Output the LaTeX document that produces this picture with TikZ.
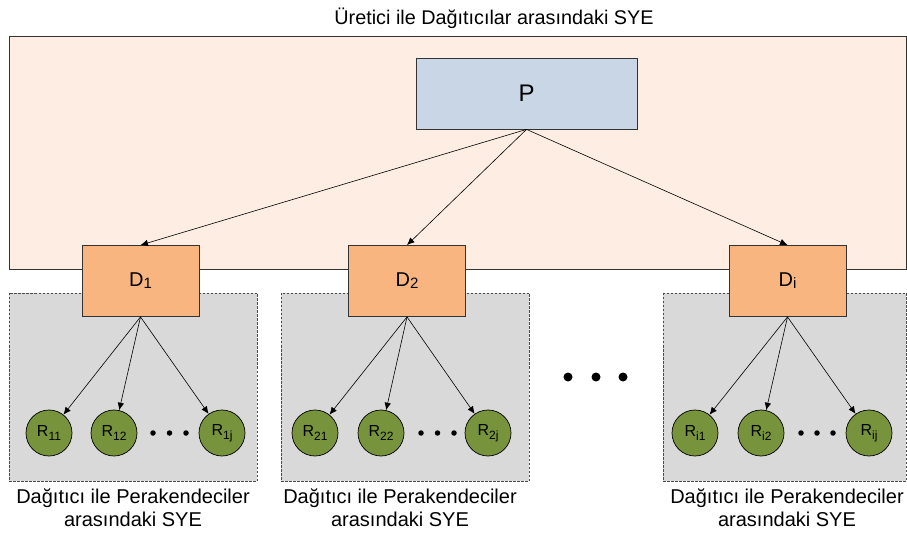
\documentclass[tikz,border=0pt]{standalone}
\usepackage{fontspec}
\setmainfont{Liberation Sans}
\usetikzlibrary{arrows.meta}

\definecolor{peach}{HTML}{FDEDE3}
\definecolor{distfill}{HTML}{F9B57F}
\definecolor{prodfill}{HTML}{C8D6E5}
\definecolor{zonegrey}{HTML}{D9D9D9}
\definecolor{retgreen}{HTML}{77933C}

\newcommand\dsub[1]{\raisebox{-2pt}{\fontsize{15}{15}\selectfont #1}}
\newcommand\rsub[1]{\raisebox{-3.5pt}{\fontsize{12}{12}\selectfont #1}}

\tikzset{
  zone/.style={draw=black!70, line width=0.6pt, dash pattern=on 2.5pt off 1.5pt, fill=zonegrey},
  prodbox/.style={draw=black!80, line width=0.8pt, fill=prodfill, minimum width=221pt, minimum height=71pt, inner sep=0pt, font=\fontsize{24}{24}\selectfont},
  distbox/.style={draw=black!80, line width=0.8pt, fill=distfill, minimum width=117pt, minimum height=71pt, inner sep=0pt, font=\fontsize{20}{20}\selectfont},
  retail/.style={circle, draw=black, line width=0.7pt, fill=retgreen, minimum size=46pt, inner sep=0pt, font=\fontsize{16}{16}\selectfont},
  arr/.style={-{Latex[length=7.5pt,width=6.5pt]}, line width=0.6pt},
  bigdot/.style={circle, fill=black, inner sep=0pt, minimum size=9pt},
  smalldot/.style={circle, fill=black, inner sep=0pt, minimum size=5.5pt},
  caption/.style={align=center, font=\fontsize{20}{23}\selectfont}
}

\begin{document}
\begin{tikzpicture}[x=1pt, y=-1pt]
  \useasboundingbox (0,0) rectangle (907,534);

  % producer--distributor zone
  \node[font=\fontsize{19.8}{19.8}\selectfont] (title) at (494,18) {Üretici ile Dağıtıcılar arasındaki SYE};
  \draw[draw=black!80, line width=0.8pt, fill=peach] (9,36) rectangle (906,269);

  % distributor--retailer zones
  \draw[zone] (9,293) rectangle (257,481);
  \draw[zone] (281,293) rectangle (529,481);
  \draw[zone] (663,293) rectangle (906,481);

  % producer and distributors
  \node[prodbox] (P) at (526.5,93.5) {P};
  \node[distbox] (D1) at (140.5,281) {D\dsub{1}};
  \node[distbox] (D2) at (407,281) {D\dsub{2}};
  \node[distbox] (Di) at (787.5,281) {D\dsub{i}};

  % retailers
  \node[retail] (R11) at (49,433) {R\rsub{11}};
  \node[retail] (R12) at (114,433) {R\rsub{12}};
  \node[retail] (R1j) at (222,433) {R\rsub{1j}};
  \node[retail] (R21) at (315,433) {R\rsub{21}};
  \node[retail] (R22) at (381,433) {R\rsub{22}};
  \node[retail] (R2j) at (488,433) {R\rsub{2j}};
  \node[retail] (Ri1) at (695,433) {R\rsub{i1}};
  \node[retail] (Ri2) at (761,433) {R\rsub{i2}};
  \node[retail] (Rij) at (869,433) {R\rsub{ij}};

  % ellipsis dots
  \foreach \x [count=\k] in {153,169.5,186} \node[smalldot] (da\k) at (\x,433) {};
  \foreach \x [count=\k] in {421,437.5,454} \node[smalldot] (db\k) at (\x,433) {};
  \foreach \x [count=\k] in {801,817,833} \node[smalldot] (dc\k) at (\x,433) {};
  \foreach \x [count=\k] in {568,596,623} \node[bigdot] (dd\k) at (\x,377) {};

  % connectors
  \draw[arr] (P.south) -- (D1.north);
  \draw[arr] (P.south) -- (D2.north);
  \draw[arr] (P.south) -- (Di.north);
  \foreach \d/\a/\b/\c in {D1/R11/R12/R1j, D2/R21/R22/R2j, Di/Ri1/Ri2/Rij} {
    \draw[arr] (\d.south) -- (\a);
    \draw[arr] (\d.south) -- (\b);
    \draw[arr] (\d.south) -- (\c);
  }

  % zone captions
  \node[caption] (c1) at (133,508) {Dağıtıcı ile Perakendeciler\\arasındaki SYE};
  \node[caption] (c2) at (400,508) {Dağıtıcı ile Perakendeciler\\arasındaki SYE};
  \node[caption] (c3) at (787,508) {Dağıtıcı ile Perakendeciler\\arasındaki SYE};
\end{tikzpicture}
\end{document}
